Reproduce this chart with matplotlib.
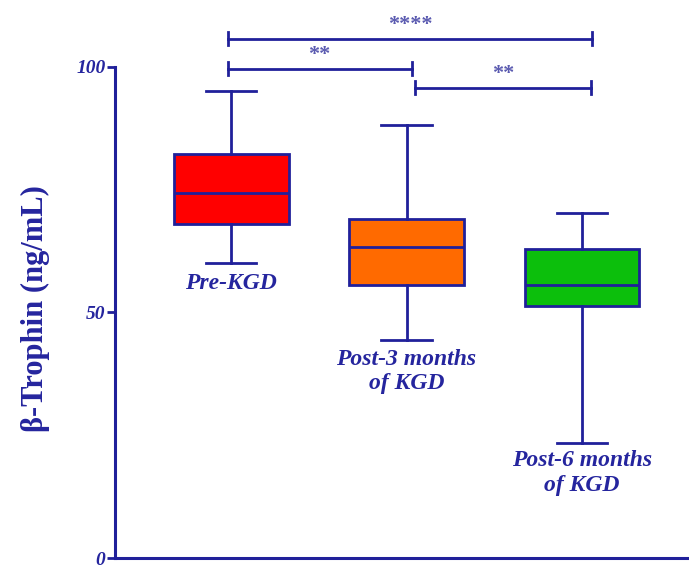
import matplotlib.pyplot as plt
import numpy as np

# Data
groups = ['Pre-KGD', 'Post-3 months\nof KGD', 'Post-6 months\nof KGD']
whisker_low = [60.1, 44.4, 23.4]
q1 = [68.0, 55.6, 51.3]
median = [74.3, 63.3, 55.6]
q3 = [82.3, 69.0, 62.9]
whisker_high = [95.1, 88.2, 70.3]
box_colors = ['#ff0000', '#ff6a00', '#0cbf0c']

# Significance brackets: (x start, x end, y, label)
brackets = [(0.98, 3.06, 105.7, '****'),
            (0.98, 2.03, 99.6, '**'),
            (2.05, 3.05, 95.7, '**')]
star_y = [107.4, 101.3, 97.6]

navy = '#20209a'
text_blue = '#25259e'

plt.rcParams['font.family'] = ['Liberation Serif', 'DejaVu Serif']

fig = plt.figure(figsize=(6.89, 5.66), dpi=100)
ax = fig.add_axes([0.167, 0.0141, 0.833, 0.986])

stats = []
for i in range(len(groups)):
    stats.append({'whislo': whisker_low[i], 'q1': q1[i], 'med': median[i],
                  'q3': q3[i], 'whishi': whisker_high[i], 'fliers': []})

pos = np.arange(1, len(groups) + 1)
bp = ax.bxp(stats, positions=pos, widths=0.655, capwidths=0.29, patch_artist=True,
            showfliers=False,
            boxprops=dict(edgecolor=navy, linewidth=2),
            medianprops=dict(color=navy, linewidth=2),
            whiskerprops=dict(color=navy, linewidth=2),
            capprops=dict(color=navy, linewidth=2))
for patch, c in zip(bp['boxes'], box_colors):
    patch.set_facecolor(c)

# group labels under each box
label_y = [58.0, 42.6, 21.9]
for p, name, y in zip(pos, groups, label_y):
    ax.text(p, y, name, ha='center', va='top', fontsize=17, fontweight='bold',
            fontstyle='italic', color=text_blue, linespacing=1.22)

# significance bars
for (x0, x1, y, lab), sy in zip(brackets, star_y):
    ax.plot([x0, x1], [y, y], color=navy, linewidth=2)
    ax.plot([x0, x0], [y - 1.3, y + 1.3], color=navy, linewidth=2)
    ax.plot([x1, x1], [y - 1.3, y + 1.3], color=navy, linewidth=2)
    ax.text((x0 + x1) / 2, sy, lab, ha='center', va='baseline', fontsize=16,
            fontweight='bold', color='#5a5ab0')

ax.set_xlim(0.339, 3.61)
ax.set_ylim(0, 113.6)
ax.set_xticks([])
ax.set_yticks([0, 50, 100])
ax.set_yticklabels(['0', '50', '100'], fontsize=14, fontweight='bold',
                   fontstyle='italic', color=text_blue)
ax.tick_params(axis='y', direction='out', length=6, width=2, color=navy, pad=1)

for side in ['top', 'right']:
    ax.spines[side].set_visible(False)
for side in ['left', 'bottom']:
    ax.spines[side].set_color(navy)
    ax.spines[side].set_linewidth(2.2)
ax.spines['left'].set_bounds(0, 100)

fig.text(0.051, 0.455, 'β-Trophin (ng/mL)', rotation=90, ha='center', va='center',
         fontsize=22, fontweight='bold', color=text_blue)

plt.savefig('out.png', dpi=100)
